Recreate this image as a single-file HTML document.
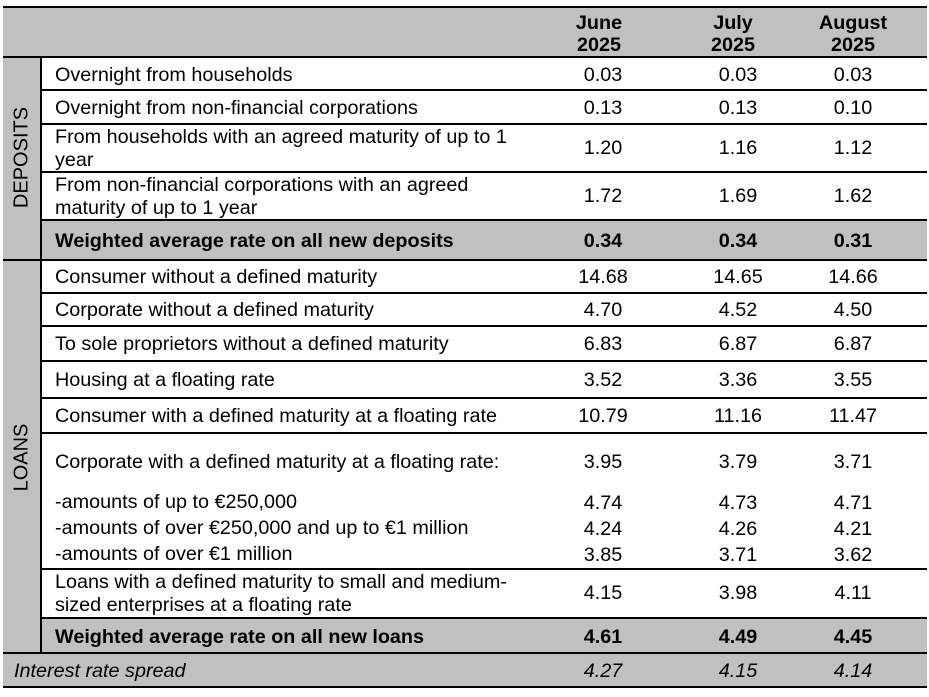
<!DOCTYPE html>
<html><head><meta charset="utf-8"><style>
body{margin:0;width:929px;height:697px;background:#fff;position:relative;font-family:"Liberation Sans",Arial,sans-serif;font-size:19.8px;color:#000;overflow:hidden}
.g{position:absolute;background:#c0c0c0}
.h{position:absolute;background:#000;height:2px}
.t{position:absolute;white-space:nowrap;line-height:23px;margin-top:1px}
.n{position:absolute;width:120px;text-align:center;line-height:23px;margin-top:1px}
.hd{line-height:22px}
.b{font-weight:bold}
.i{font-style:italic}
.v{position:absolute;transform:rotate(-90deg);transform-origin:center;white-space:nowrap;text-align:center;width:200px;line-height:23px;font-size:20px}
</style></head><body>
<div class="g" style="left:3px;top:7px;width:924px;height:50px"></div>
<div class="g" style="left:3px;top:57px;width:38px;height:596px"></div>
<div class="g" style="left:41px;top:220px;width:886px;height:40px"></div>
<div class="g" style="left:41px;top:618px;width:886px;height:35px"></div>
<div class="g" style="left:3px;top:653px;width:924px;height:34px"></div>

<div class="h" style="left:3px;top:6px;width:924px"></div>
<div class="h" style="left:3px;top:56px;width:924px"></div>
<div class="h" style="left:41px;top:89px;width:886px"></div>
<div class="h" style="left:41px;top:123px;width:886px"></div>
<div class="h" style="left:41px;top:171px;width:886px"></div>
<div class="h" style="left:41px;top:219px;width:886px"></div>
<div class="h" style="left:3px;top:259px;width:924px"></div>
<div class="h" style="left:41px;top:292px;width:886px"></div>
<div class="h" style="left:41px;top:325px;width:886px"></div>
<div class="h" style="left:41px;top:360px;width:886px"></div>
<div class="h" style="left:41px;top:397px;width:886px"></div>
<div class="h" style="left:41px;top:432px;width:886px"></div>
<div class="h" style="left:41px;top:568px;width:886px"></div>
<div class="h" style="left:41px;top:617px;width:886px"></div>
<div class="h" style="left:3px;top:652px;width:924px"></div>
<div class="h" style="left:3px;top:686px;width:924px"></div>
<div style="position:absolute;left:40px;top:57px;width:2px;height:596px;background:#000"></div>

<div class="n b hd" style="left:539px;top:11px">June<br>2025</div>
<div class="n b hd" style="left:673px;top:11px">July<br>2025</div>
<div class="n b hd" style="left:793px;top:11px">August<br>2025</div>

<div class="v" style="left:-78px;top:146px">DEPOSITS</div>
<div class="v" style="left:-78px;top:446px">LOANS</div>

<div class="t" style="left:55px;top:63px">Overnight from households</div>
<div class="t" style="left:55px;top:96px">Overnight from non-financial corporations</div>
<div class="t" style="left:55px;top:125px">From households with an agreed maturity of up to 1<br>year</div>
<div class="t" style="left:55px;top:173px">From non-financial corporations with an agreed<br>maturity of up to 1 year</div>
<div class="t b" style="left:55px;top:229px">Weighted average rate on all new deposits</div>
<div class="t" style="left:55px;top:265px">Consumer without a defined maturity</div>
<div class="t" style="left:55px;top:298px">Corporate without a defined maturity</div>
<div class="t" style="left:55px;top:332px">To sole proprietors without a defined maturity</div>
<div class="t" style="left:55px;top:368px">Housing at a floating rate</div>
<div class="t" style="left:55px;top:404px">Consumer with a defined maturity at a floating rate</div>
<div class="t" style="left:55px;top:450px">Corporate with a defined maturity at a floating rate:</div>
<div class="t" style="left:55px;top:490px">-amounts of up to €250,000</div>
<div class="t" style="left:55px;top:516px">-amounts of over €250,000 and up to €1 million</div>
<div class="t" style="left:55px;top:542px">-amounts of over €1 million</div>
<div class="t" style="left:55px;top:570px">Loans with a defined maturity to small and medium-<br>sized enterprises at a floating rate</div>
<div class="t b" style="left:55px;top:625px">Weighted average rate on all new loans</div>
<div class="t i" style="left:14px;top:659px">Interest rate spread</div>

<div class="n" style="left:543px;top:63px">0.03</div><div class="n" style="left:678px;top:63px">0.03</div><div class="n" style="left:793px;top:63px">0.03</div>
<div class="n" style="left:543px;top:96px">0.13</div><div class="n" style="left:678px;top:96px">0.13</div><div class="n" style="left:793px;top:96px">0.10</div>
<div class="n" style="left:543px;top:136px">1.20</div><div class="n" style="left:678px;top:136px">1.16</div><div class="n" style="left:793px;top:136px">1.12</div>
<div class="n" style="left:543px;top:184px">1.72</div><div class="n" style="left:678px;top:184px">1.69</div><div class="n" style="left:793px;top:184px">1.62</div>
<div class="n b" style="left:543px;top:229px">0.34</div><div class="n b" style="left:678px;top:229px">0.34</div><div class="n b" style="left:793px;top:229px">0.31</div>
<div class="n" style="left:543px;top:265px">14.68</div><div class="n" style="left:678px;top:265px">14.65</div><div class="n" style="left:793px;top:265px">14.66</div>
<div class="n" style="left:543px;top:298px">4.70</div><div class="n" style="left:678px;top:298px">4.52</div><div class="n" style="left:793px;top:298px">4.50</div>
<div class="n" style="left:543px;top:332px">6.83</div><div class="n" style="left:678px;top:332px">6.87</div><div class="n" style="left:793px;top:332px">6.87</div>
<div class="n" style="left:543px;top:368px">3.52</div><div class="n" style="left:678px;top:368px">3.36</div><div class="n" style="left:793px;top:368px">3.55</div>
<div class="n" style="left:543px;top:404px">10.79</div><div class="n" style="left:678px;top:404px">11.16</div><div class="n" style="left:793px;top:404px">11.47</div>
<div class="n" style="left:543px;top:450px">3.95</div><div class="n" style="left:678px;top:450px">3.79</div><div class="n" style="left:793px;top:450px">3.71</div>
<div class="n" style="left:543px;top:491px">4.74</div><div class="n" style="left:678px;top:491px">4.73</div><div class="n" style="left:793px;top:491px">4.71</div>
<div class="n" style="left:543px;top:517px">4.24</div><div class="n" style="left:678px;top:517px">4.26</div><div class="n" style="left:793px;top:517px">4.21</div>
<div class="n" style="left:543px;top:543px">3.85</div><div class="n" style="left:678px;top:543px">3.71</div><div class="n" style="left:793px;top:543px">3.62</div>
<div class="n" style="left:543px;top:581px">4.15</div><div class="n" style="left:678px;top:581px">3.98</div><div class="n" style="left:793px;top:581px">4.11</div>
<div class="n b" style="left:543px;top:625px">4.61</div><div class="n b" style="left:678px;top:625px">4.49</div><div class="n b" style="left:793px;top:625px">4.45</div>
<div class="n i" style="left:543px;top:659px">4.27</div><div class="n i" style="left:678px;top:659px">4.15</div><div class="n i" style="left:793px;top:659px">4.14</div>
</body></html>
